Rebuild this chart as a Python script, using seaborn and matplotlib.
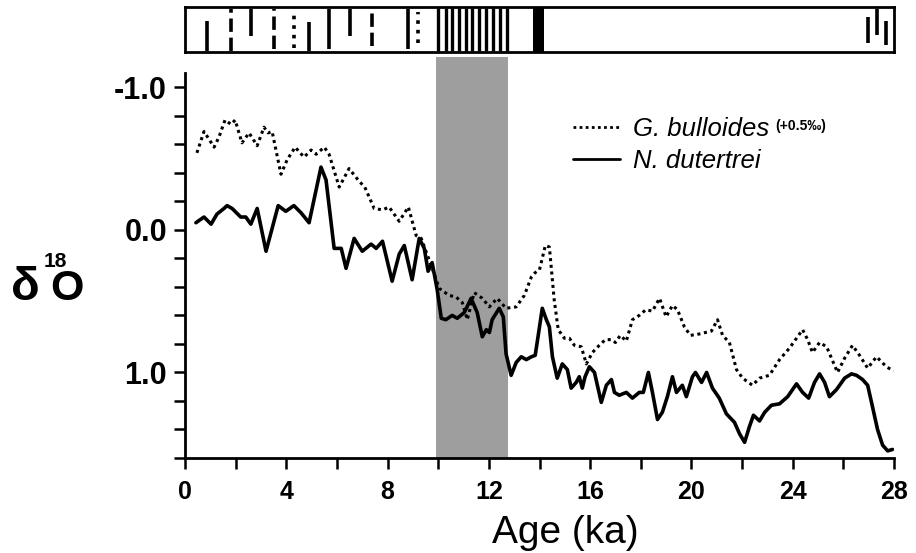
import numpy as np
import pandas as pd
import matplotlib
matplotlib.use('Agg')
import matplotlib.pyplot as plt
import seaborn as sns

# G. bulloides (+0.5 permil), dotted curve
bull_age = [0.47, 0.75, 1.15, 1.34, 1.58, 1.82, 1.98, 2.25, 2.53, 2.85, 3.12, 3.28, 3.44,
            3.79, 4.03, 4.35, 4.70, 4.98, 5.18, 5.50, 5.69, 6.09, 6.48, 6.88, 7.10, 7.47,
            7.80, 8.06, 8.46, 8.82, 9.13, 9.33, 9.64, 10.04, 10.43, 10.70, 10.95, 11.15,
            11.42, 11.74, 12.02, 12.33, 12.68, 13.08, 13.40, 13.68, 13.83, 14.00, 14.23,
            14.39, 14.58, 14.74, 14.98, 15.18, 15.38, 15.65, 15.85, 16.09, 16.36, 16.60,
            16.84, 17.00, 17.19, 17.43, 17.67, 17.94, 18.20, 18.46, 18.74, 19.00, 19.25,
            19.45, 19.72, 19.96, 20.32, 20.79, 21.03, 21.23, 21.50, 21.78, 22.02, 22.41,
            22.69, 23.08, 23.48, 23.87, 24.15, 24.39, 24.59, 24.78, 25.06, 25.34, 25.77,
            26.05, 26.36, 26.64, 26.96, 27.31, 27.70, 27.98]
bull_d18o = [-0.54, -0.69, -0.58, -0.65, -0.77, -0.74, -0.77, -0.61, -0.68, -0.59, -0.72, -0.68, -0.69,
             -0.39, -0.49, -0.58, -0.51, -0.56, -0.53, -0.58, -0.53, -0.30, -0.43, -0.34, -0.30, -0.15,
             -0.14, -0.16, -0.06, -0.16, 0.04, 0.06, 0.21, 0.41, 0.46, 0.47, 0.51, 0.63,
             0.44, 0.48, 0.54, 0.48, 0.55, 0.54, 0.46, 0.33, 0.30, 0.28, 0.11,
             0.12, 0.49, 0.70, 0.76, 0.76, 0.81, 0.82, 0.94, 0.86, 0.81, 0.77,
             0.77, 0.79, 0.74, 0.78, 0.63, 0.60, 0.56, 0.57, 0.48, 0.61, 0.53,
             0.56, 0.68, 0.74, 0.73, 0.71, 0.63, 0.74, 0.79, 0.98, 1.04, 1.09,
             1.04, 1.02, 0.91, 0.83, 0.76, 0.70, 0.77, 0.86, 0.79, 0.82, 1.00,
             0.90, 0.81, 0.88, 0.97, 0.89, 0.96, 0.99]

# N. dutertrei, solid curve
dut_age = [0.43, 0.75, 1.03, 1.26, 1.54, 1.66, 1.86, 2.20, 2.40, 2.60, 2.85, 3.20, 3.68,
           3.98, 4.30, 4.58, 4.90, 5.37, 5.57, 5.89, 6.17, 6.36, 6.68, 7.00, 7.35, 7.55,
           7.80, 8.18, 8.46, 8.66, 8.97, 9.25, 9.45, 9.60, 9.76, 9.96, 10.12, 10.30,
           10.55, 10.75, 11.03, 11.30, 11.54, 11.74, 11.90, 12.02, 12.13, 12.41, 12.57,
           12.68, 12.88, 13.08, 13.28, 13.48, 13.68, 13.83, 13.95, 14.11, 14.27, 14.39,
           14.51, 14.70, 14.90, 15.10, 15.25, 15.45, 15.57, 15.69, 15.80, 15.97, 16.17,
           16.44, 16.64, 16.84, 16.96, 17.15, 17.43, 17.67, 17.94, 18.10, 18.30, 18.46,
           18.66, 18.85, 19.05, 19.25, 19.41, 19.64, 19.80, 20.04, 20.16, 20.40, 20.60,
           20.83, 21.10, 21.38, 21.70, 21.90, 22.10, 22.29, 22.45, 22.69, 22.89, 23.16,
           23.48, 23.80, 24.15, 24.39, 24.63, 24.86, 25.06, 25.26, 25.45, 25.73, 26.05,
           26.32, 26.52, 26.76, 26.96, 27.15, 27.35, 27.55, 27.75, 27.94]
dut_d18o = [-0.05, -0.09, -0.04, -0.11, -0.15, -0.17, -0.15, -0.09, -0.09, -0.04, -0.15, 0.15, -0.17,
            -0.13, -0.17, -0.12, -0.05, -0.44, -0.35, 0.13, 0.13, 0.27, 0.06, 0.15, 0.10, 0.13,
            0.08, 0.36, 0.17, 0.11, 0.35, 0.06, 0.13, 0.29, 0.23, 0.42, 0.62, 0.63,
            0.60, 0.62, 0.58, 0.48, 0.58, 0.75, 0.70, 0.72, 0.63, 0.55, 0.61,
            0.87, 1.02, 0.93, 0.89, 0.91, 0.89, 0.88, 0.74, 0.55, 0.63, 0.68,
            0.89, 1.04, 0.94, 0.98, 1.11, 1.07, 1.03, 1.11, 1.03, 0.96, 1.00,
            1.21, 1.09, 1.05, 1.14, 1.16, 1.14, 1.18, 1.14, 1.14, 1.00, 1.14,
            1.33, 1.28, 1.17, 1.03, 1.14, 1.09, 1.17, 1.03, 1.00, 1.07, 1.00,
            1.11, 1.18, 1.29, 1.35, 1.43, 1.49, 1.38, 1.30, 1.34, 1.28, 1.23,
            1.22, 1.17, 1.08, 1.14, 1.18, 1.07, 1.01, 1.07, 1.17, 1.12, 1.04,
            1.01, 1.02, 1.05, 1.09, 1.24, 1.40, 1.51, 1.55, 1.54]

# shaded interval
band_start, band_end = 9.9, 12.74

# top strip: sparse marks (age, bottom, top, style)
strip_age = [0.85, 1.83, 2.6, 3.5, 4.3, 4.9, 5.7, 6.5, 7.4, 8.8, 9.2, 26.97, 27.33, 27.68]
strip_lo = [0.02, 0.02, 0.36, 0.06, 0.10, 0.02, 0.06, 0.36, 0.14, 0.06, 0.20, 0.19, 0.38, 0.15]
strip_hi = [0.68, 0.96, 0.96, 0.96, 0.92, 0.66, 0.96, 0.96, 0.96, 0.96, 0.89, 0.77, 0.96, 0.69]
strip_ls = ['-', '--', '-', '--', ':', '-', '-', '-', '--', '-', ':', '-', '-', '-']
dense_age = [10.0, 10.29, 10.56, 10.82, 11.08, 11.35, 11.61, 11.87, 12.16, 12.43, 12.72]
block_start, block_end = 13.76, 14.16

x_ticks = list(range(0, 29, 2))
x_labels = [str(t) if t % 4 == 0 else '' for t in x_ticks]
y_ticks = [-1.0, 0.0, 1.0]
y_labels = ['-1.0', '0.0', '1.0']

sns.set_theme(style='white')
plt.rcParams['font.family'] = ['Liberation Sans', 'DejaVu Sans']
plt.rcParams['text.color'] = 'black'
plt.rcParams['axes.labelcolor'] = 'black'
plt.rcParams['xtick.color'] = 'black'
plt.rcParams['ytick.color'] = 'black'

W, H = 916, 553
fig = plt.figure(figsize=(W / 100, H / 100), dpi=100)
ax = fig.add_axes([185 / W, 1 - 458 / H, 709 / W, (458 - 73) / H])

bull = pd.DataFrame({'age': bull_age, 'd18o': bull_d18o})
dut = pd.DataFrame({'age': dut_age, 'd18o': dut_d18o})

ax.axvspan(band_start, band_end, ymin=0, ymax=(458 - 57) / (458 - 73),
           color='#9e9e9e', lw=0, zorder=0, clip_on=False)
sns.lineplot(data=bull, x='age', y='d18o', ax=ax, color='black', lw=2.2,
             linestyle=(0, (1, 1.2)), label='G. bulloides', zorder=3)
sns.lineplot(data=dut, x='age', y='d18o', ax=ax, color='black', lw=2.6,
             label='N. dutertrei', zorder=3)
for ln in ax.get_lines():
    ln.set_solid_joinstyle('round')

ax.set_xlim(0, 28)
ax.set_ylim(1.6, -1.1)
for s in ['top', 'right']:
    ax.spines[s].set_visible(False)
for s in ['left', 'bottom']:
    ax.spines[s].set_linewidth(2)
    ax.spines[s].set_color('black')

ax.set_xticks(x_ticks, labels=x_labels)
ax.set_yticks(y_ticks, labels=y_labels)
ax.set_yticks(np.arange(-1.0, 1.61, 0.2), minor=True)
ax.tick_params(axis='x', direction='out', length=8, width=1.8, pad=8,
               labelsize=18, bottom=True, colors='black')
ax.tick_params(axis='y', which='both', direction='out', length=8, width=1.8,
               pad=5, left=True, colors='black')
ax.tick_params(axis='y', labelsize=22)
for lab in ax.get_xticklabels() + ax.get_yticklabels():
    lab.set_fontweight('bold')
ax.set_xlabel('')
ax.set_ylabel('')

leg = ax.legend(loc='upper left', bbox_to_anchor=(560 / W, 1 - 104 / H),
                bbox_transform=fig.transFigure, frameon=False, handlelength=1.85,
                handletextpad=0.5, labelspacing=0.3, borderpad=0,
                prop={'style': 'italic', 'size': 18.5})
for line in leg.get_lines():
    line.set_linewidth(2)
for t in leg.get_texts():
    t.set_color('black')
fig.text(775 / W, 1 - 126 / H, '(+0.5‰)', fontsize=10, fontweight='bold',
         va='center', ha='left')

# y label pieces: delta, superscript 18, O
fig.text(11 / W, 1 - 300 / H, 'δ', fontsize=34, fontweight='bold', va='baseline')
fig.text(44 / W, 1 - 267 / H, '18', fontsize=15, fontweight='bold', va='baseline')
fig.text(50 / W, 1 - 300 / H, 'O', fontsize=31, fontweight='bold', va='baseline')

fig.text(565 / W, 1 - 543 / H, 'Age (ka)', fontsize=28, ha='center', va='baseline')

# top strip with marks
sx = fig.add_axes([185 / W, 1 - 52 / H, 709 / W, 45 / H])
sx.set_xlim(0, 28)
sx.set_ylim(0, 1)
sx.set_xticks([])
sx.set_yticks([])
for s in sx.spines.values():
    s.set_linewidth(2)
    s.set_color('black')
for a, lo, hi, ls in zip(strip_age, strip_lo, strip_hi, strip_ls):
    sx.vlines(a, lo, hi, colors='black', lw=2.6, linestyles=ls)
sx.vlines(dense_age, 0.02, 0.98, colors='black', lw=2.4)
sx.axvspan(block_start, block_end, color='black', lw=0)

fig.savefig('out.png', dpi=100)
